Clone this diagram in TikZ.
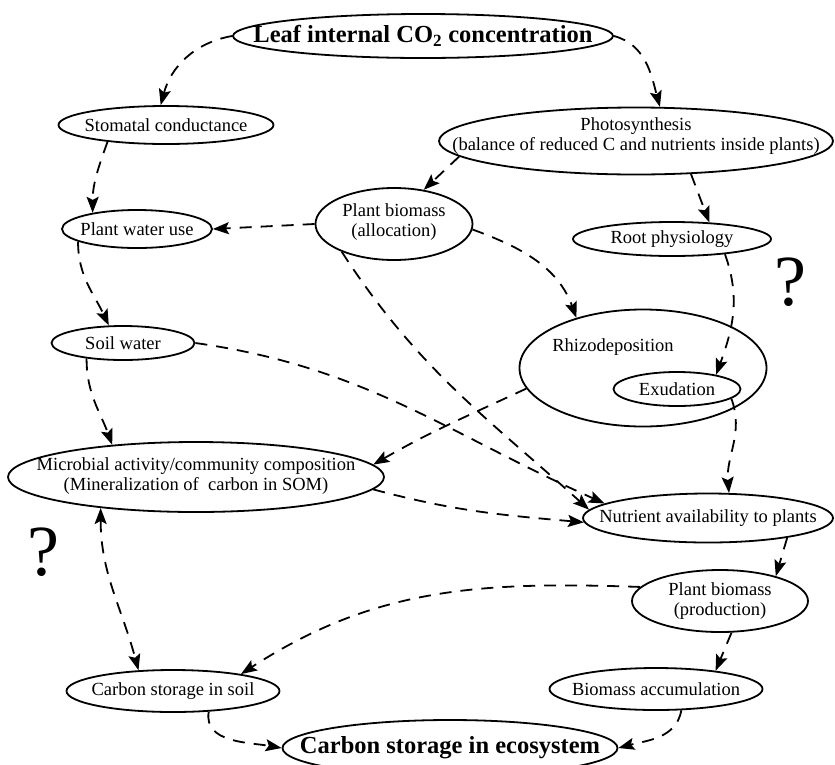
\documentclass[tikz,border=0pt]{standalone}
\usepackage{fontspec}
\setmainfont{Liberation Serif}
\usetikzlibrary{shapes.geometric,arrows.meta}
\tikzstyle{oval} = [draw,shape=ellipse,line width=1.8pt,inner sep=0pt]
\tikzstyle{link} = [line width=1.8pt,dash pattern=on 12pt off 9pt,-{Stealth[length=16pt,width=12pt,inset=3pt]}]
\tikzstyle{twoway} = [link,{Stealth[length=16pt,width=12pt,inset=3pt]}-{Stealth[length=16pt,width=12pt,inset=3pt]}]
\tikzstyle{query} = [font=\fontsize{72}{72}\selectfont,inner sep=0pt]
\tikzstyle{title} = [font=\bfseries\fontsize{24.5}{26}\selectfont]

\begin{document}
\begin{tikzpicture}[x=1pt,y=-1pt,every label/.style={align=center,font=\fontsize{18.5}{20.5}\selectfont}]
\useasboundingbox (0,0) rectangle (835,764);

\node[oval,minimum width=380,minimum height=44,label={[title]center:Leaf internal CO\textsubscript{2} concentration}] (leaf) at (423,36) {};
\node[oval,minimum width=215,minimum height=38,label=center:Stomatal conductance] (stoma) at (166,125) {};
\node[oval,minimum width=394,minimum height=67,label={[yshift=5pt]center:Photosynthesis\\(balance of reduced C and nutrients inside plants)}] (photo) at (636,141) {};
\node[oval,minimum width=150,minimum height=38,label=center:Plant water use] (water) at (137,229) {};
\node[oval,minimum width=157,minimum height=72,label={[yshift=2pt]center:Plant biomass\\(allocation)}] (alloc) at (394,224) {};
\node[oval,minimum width=198,minimum height=34,label=center:Root physiology] (root) at (672,239) {};
\node[oval,minimum width=143,minimum height=34,label=center:Soil water] (soil) at (123,343) {};
\node[oval,minimum width=247,minimum height=117,label={[xshift=-30pt,yshift=21pt]center:Rhizodeposition}] (rhizo) at (643,368) {};
\node[oval,minimum width=127,minimum height=34,label=center:Exudation] (exud) at (677,389) {};
\node[oval,minimum width=376,minimum height=70,label={[yshift=1pt]center:Microbial activity/community composition\\(Mineralization of\ \ carbon in SOM)}] (micro) at (196,477) {};
\node[oval,minimum width=250,minimum height=49,label=center:Nutrient availability to plants] (nutr) at (708,518) {};
\node[oval,minimum width=176,minimum height=62,label={center:Plant biomass\\(production)}] (pbprod) at (720,601) {};
\node[oval,minimum width=213,minimum height=42,label=center:Carbon storage in soil] (csoil) at (173,691) {};
\node[oval,minimum width=213,minimum height=42,label=center:Biomass accumulation] (bioacc) at (656,689) {};
\node[oval,minimum width=335,minimum height=56,label={[title]center:Carbon storage in ecosystem}] (ecosys) at (450,748) {};

\node[query] (qright) at (790,282) {?};
\node[query] (qleft) at (43,552) {?};

% top of the diagram
\draw[link] (leaf.west) to[out=190,in=75] (stoma.105);
\draw[link] (leaf.east) to[out=-15,in=105] (photo.55);
\draw[link] (stoma.196) to[out=250,in=90] (water.160);
\draw[link] (alloc.west) -- (water.east);
\draw[link] (photo.185) -- (alloc.49);
\draw[link] (photo.-31) -- (root.24);

% middle
\draw[link] (water.192) to[out=-90,in=115] (soil.129);
\draw[link] (alloc.-4) to[out=-20,in=110] (rhizo.143);
\draw[link] (root.-16) to[out=-70,in=70] (exud.20);
\draw[link] (exud.-10) to[out=-70,in=95] (nutr.50);
\draw[link] (soil.east) to[out=-8,in=156] (nutr.172);
\draw[link] (alloc.-152) to[out=-57,in=138] (nutr.176);
\draw[link] (rhizo.190) to[out=205,in=30] (micro.4);
\draw[link] (soil.203) to[out=-90,in=110] (micro.159);
\draw[link] (micro.-4) to[out=-15,in=175] (nutr.182);

% bottom
\draw[link] (nutr.-14) -- (pbprod.24);
\draw[link] (pbprod.170) to[out=178,in=33] (csoil.14);
\draw[link] (pbprod.-70) -- (bioacc.17);
\draw[link] (bioacc.-40) to[out=-100,in=15] (ecosys.east);
\draw[twoway] (micro.198) to[out=-90,in=105] (csoil.149);
\draw[link] (csoil.-30) to[out=-100,in=170] (ecosys.west);
\end{tikzpicture}
\end{document}
